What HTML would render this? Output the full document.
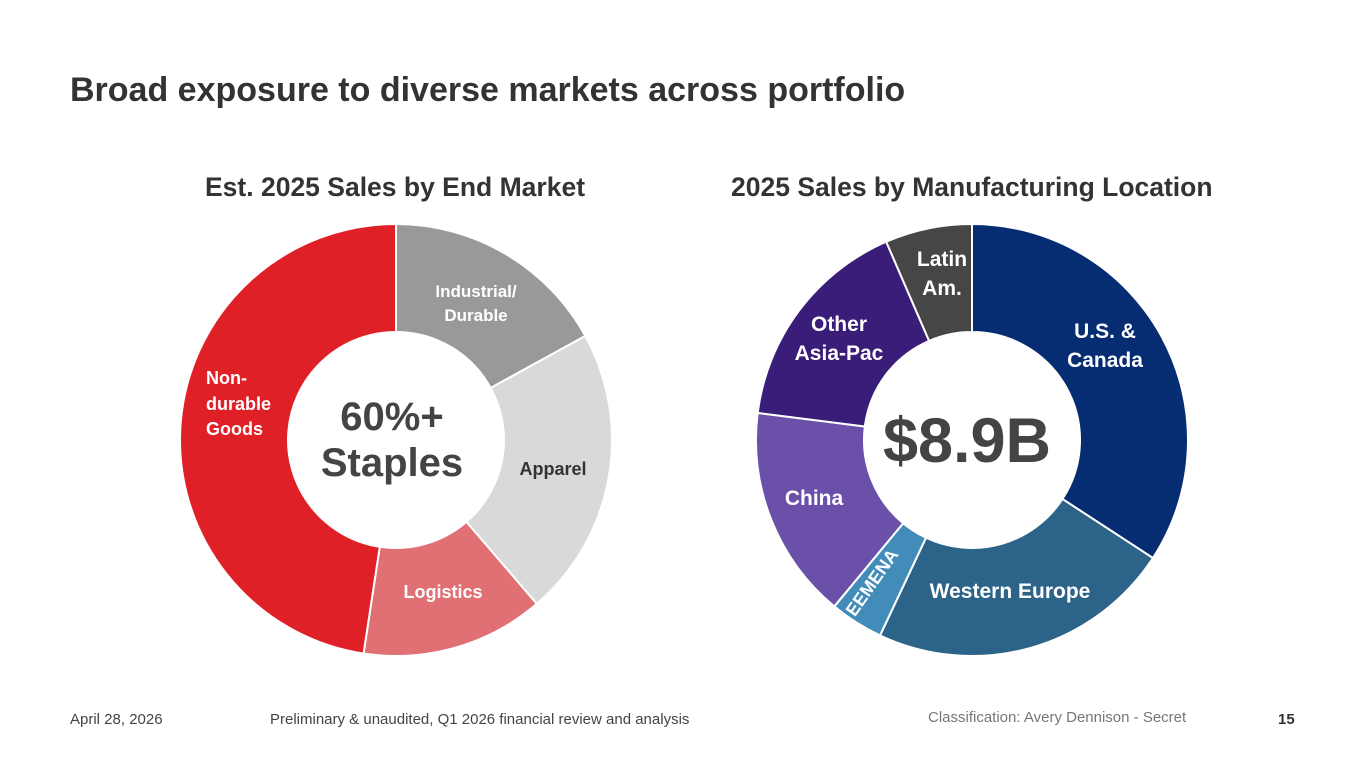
<!DOCTYPE html>
<html><head><meta charset="utf-8">
<style>
body{margin:0;width:1365px;height:768px;background:#fff;font-family:"Liberation Sans",sans-serif;overflow:hidden;position:relative}
.t{position:absolute;white-space:nowrap}
</style></head><body>
<div class="t" style="left:70px;top:71px;font-size:34px;font-weight:bold;color:#333">Broad exposure to diverse markets across portfolio</div>
<div class="t" style="left:205px;top:172px;font-size:26.5px;font-weight:bold;color:#333">Est. 2025 Sales by End Market</div>
<div class="t" style="left:731px;top:172px;font-size:26.5px;font-weight:bold;color:#333">2025 Sales by Manufacturing Location</div>
<svg id="chart" width="1365" height="768" style="position:absolute;left:0;top:0"></svg>
<div class="t" style="left:70px;top:711px;font-size:15px;color:#444">April 28, 2026</div>
<div class="t" style="left:270px;top:711px;font-size:15px;color:#444">Preliminary &amp; unaudited, Q1 2026 financial review and analysis</div>
<div class="t" style="left:928px;top:709px;font-size:15px;color:#777">Classification: Avery Dennison - Secret</div>
<div class="t" style="left:1278px;top:711px;font-size:15px;font-weight:bold;color:#333">15</div>
<script>
const leftCats=["Industrial/Durable","Apparel","Logistics","Non-durable Goods"];
const leftVals=[17,21.7,13.7,47.6];
const leftColors=["#999999","#d9d9d9","#e07074","#e02027"];
const rightCats=["U.S. & Canada","Western Europe","EEMENA","China","Other Asia-Pac","Latin Am."];
const rightVals=[34.2,22.8,4,16,16.5,6.5];
const rightColors=["#062c72","#2c6388","#428cba","#6a50a8","#3a1d78","#464646"];
const NS="http://www.w3.org/2000/svg";
const svg=document.getElementById('chart');
function pt(cx,cy,r,a){return [cx+r*Math.sin(a),cy-r*Math.cos(a)];}
function donut(cx,cy,R,r,vals,colors,cats,prefix){
  const tot=vals.reduce((a,b)=>a+b,0);let a0=0;
  vals.forEach((v,i)=>{
    const a1=a0+v/tot*2*Math.PI;const lg=(a1-a0)>Math.PI?1:0;
    const p1=pt(cx,cy,R,a0),p2=pt(cx,cy,R,a1),p3=pt(cx,cy,r,a1),p4=pt(cx,cy,r,a0);
    const p=document.createElementNS(NS,'path');
    p.setAttribute('d',`M${p1}A${R},${R} 0 ${lg} 1 ${p2}L${p3}A${r},${r} 0 ${lg} 0 ${p4}Z`);
    p.setAttribute('fill',colors[i]);p.setAttribute('stroke','#fff');p.setAttribute('stroke-width','2');
    
    
    svg.appendChild(p);a0=a1;
  });
}
donut(396,440,216,108,leftVals,leftColors,leftCats,'end-market');
donut(972,440,216,108,rightVals,rightColors,rightCats,'location');
function txt(x,y,s,size,color,name,anchor,rot){
  const t=document.createElementNS(NS,'text');
  t.setAttribute('x',x);t.setAttribute('y',y);t.setAttribute('font-size',size);
  t.setAttribute('font-weight','bold');t.setAttribute('fill',color);
  t.setAttribute('text-anchor',anchor||'middle');t.setAttribute('font-family','Liberation Sans, sans-serif');
  if(rot)t.setAttribute('transform',`rotate(${rot} ${x} ${y})`);
  t.textContent=s;
  
  
  svg.appendChild(t);
}
txt(476,297,"Industrial/",17,"#fff","label-industrial");
txt(476,321,"Durable",17,"#fff","label-durable");
txt(553,475,"Apparel",18,"#333","label-apparel");
txt(443,598,"Logistics",18,"#fff","label-logistics");
txt(206,384,"Non-",18,"#fff","label-nondurable-1","start");
txt(206,410,"durable",18,"#fff","label-nondurable-2","start");
txt(206,435,"Goods",18,"#fff","label-nondurable-3","start");
txt(392,430,"60%+",40,"#444","center-staples-1");
txt(392,476,"Staples",40,"#444","center-staples-2");
txt(1105,338,"U.S. &",21,"#fff","label-us-1");
txt(1105,367,"Canada",21,"#fff","label-us-2");
txt(1010,598,"Western Europe",21,"#fff","label-western-europe");
txt(877,586,"EEMENA",18,"#fff","label-eemena","middle",-55);
txt(814,505,"China",21,"#fff","label-china");
txt(839,331,"Other",21,"#fff","label-other-1");
txt(839,360,"Asia-Pac",21,"#fff","label-other-2");
txt(942,266,"Latin",21,"#fff","label-latin-1");
txt(942,295,"Am.",21,"#fff","label-latin-2");
txt(967,462,"$8.9B",63,"#444","center-total");
</script>
</body></html>
